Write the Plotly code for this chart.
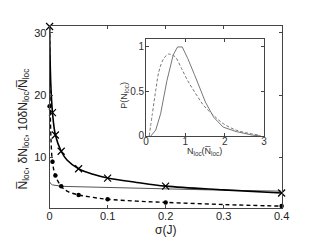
import plotly.graph_objects as go

# main panel data
sigma_pts = [0, 0.005, 0.01, 0.02, 0.05, 0.1, 0.2, 0.4]
mean_pts = [31.0, 17.2, 13.6, 11.0, 8.2, 6.7, 5.4, 4.3]
dn_pts = [18.2, 9.3, 7.1, 5.4, 4.0, 3.3, 2.8, 2.2]

sigma_fit = [0, 0.002, 0.005, 0.01, 0.02, 0.03, 0.05, 0.075, 0.1, 0.15, 0.2, 0.3, 0.4]
mean_fit = [31.0, 22.0, 17.2, 13.6, 11.0, 9.6, 8.2, 7.3, 6.7, 6.0, 5.4, 4.8, 4.3]
dn_fit = [31.0, 14.0, 9.3, 7.1, 5.4, 4.6, 4.0, 3.6, 3.3, 3.0, 2.8, 2.45, 2.2]
ratio_fit = [6.1, 5.8, 5.6, 5.5, 5.4, 5.35, 5.3, 5.28, 5.25, 5.1, 4.95, 4.75, 4.6]

# inset data
inset_x_solid = [0.12, 0.245, 0.37, 0.53, 0.69, 0.80, 0.92, 1.06, 1.23, 1.39, 1.51, 1.72, 1.96, 2.29, 2.70, 2.92]
inset_y_solid = [0.0, 0.066, 0.25, 0.62, 0.91, 1.0, 1.0, 0.87, 0.69, 0.52, 0.38, 0.21, 0.10, 0.05, 0.01, 0.0]
inset_x_dash = [0.08, 0.16, 0.245, 0.33, 0.45, 0.57, 0.65, 0.74, 0.90, 1.06, 1.27, 1.47, 1.72, 1.96, 2.29, 2.61, 2.90]
inset_y_dash = [0.0, 0.25, 0.51, 0.73, 0.87, 0.92, 0.91, 0.89, 0.76, 0.62, 0.47, 0.34, 0.23, 0.14, 0.066, 0.03, 0.01]

main_xticks = [0, 0.1, 0.2, 0.3, 0.4]
main_yticks = [10, 20, 30]
inset_xticks = [0, 1, 2, 3]
inset_yticks = [0, 0.5, 1]

W, H = 312, 246
FONT = "Liberation Sans, Arial, sans-serif"
fig = go.Figure()

fig.add_trace(go.Scatter(x=sigma_fit, y=ratio_fit, mode="lines",
                         line=dict(color="#555555", width=1), showlegend=False))
fig.add_trace(go.Scatter(x=sigma_fit, y=mean_fit, mode="lines",
                         line=dict(color="black", width=1.6, shape="spline"), showlegend=False))
fig.add_trace(go.Scatter(x=sigma_fit, y=dn_fit, mode="lines",
                         line=dict(color="black", width=1.4, dash="4px,3px", shape="spline"), showlegend=False))
fig.add_trace(go.Scatter(x=sigma_pts, y=mean_pts, mode="markers", cliponaxis=False,
                         marker=dict(symbol="x-thin-open", size=7, color="black",
                                     line=dict(color="black", width=1.2)), showlegend=False))
fig.add_trace(go.Scatter(x=sigma_pts, y=dn_pts, mode="markers", cliponaxis=False,
                         marker=dict(symbol="circle", size=4.5, color="black"), showlegend=False))

fig.add_trace(go.Scatter(x=inset_x_solid, y=inset_y_solid, mode="lines", xaxis="x2", yaxis="y2",
                         line=dict(color="#777777", width=1), showlegend=False))
fig.add_trace(go.Scatter(x=inset_x_dash, y=inset_y_dash, mode="lines", xaxis="x2", yaxis="y2",
                         line=dict(color="#777777", width=1, dash="3px,2px", shape="spline"), showlegend=False))

axis_common = dict(showgrid=False, zeroline=False, showline=True, linecolor="#444444", linewidth=1,
                   mirror="ticks", ticks="inside", ticklen=3, tickcolor="#444444",
                   tickfont=dict(family=FONT, size=11, color="#222222"))
inset_common = {**axis_common, "tickfont": dict(family=FONT, size=10, color="#333333")}

fig.update_layout(
    width=W, height=H,
    margin=dict(l=0, r=0, t=0, b=0),
    paper_bgcolor="white", plot_bgcolor="white",
    xaxis=dict(domain=[40/W, 280.5/W], range=[0, 0.4], tickvals=main_xticks,
               ticktext=["0", "0.1", "0.2", "0.3", "0.4"], anchor="y",
               ticklabelstandoff=-2, **axis_common),
    yaxis=dict(domain=[1-205/H, 1-18.3/H], range=[1.9, 31.1], tickvals=main_yticks, anchor="x",
               **axis_common),
    xaxis2=dict(domain=[140/W, 262.3/W], range=[0, 3], tickvals=inset_xticks, anchor="y2",
                ticklabelstandoff=-4, **inset_common),
    yaxis2=dict(domain=[1-131.2/H, 1-31.7/H], range=[0, 1.09], tickvals=inset_yticks,
                ticktext=["0", "0.5", "1"], anchor="x2", ticklabelstandoff=-1, **inset_common),
)

def ann(text, x, y, size, angle=0, color="#222222"):
    fig.add_annotation(text=text, xref="paper", yref="paper", x=x/W, y=1-y/H,
                       xanchor="center", yanchor="middle", showarrow=False, textangle=angle,
                       font=dict(family=FONT, size=size, color=color))

ann("σ(J)", 160, 228, 12)
ann("N\u0305<sub>loc</sub>, δN<sub>loc</sub>, 10δN<sub>loc</sub>/N\u0305<sub>loc</sub>", 13, 124, 12, angle=-90)
ann("N<sub>loc</sub>(N\u0305<sub>loc</sub>)", 201, 147, 9, color="#333333")
ann("P(N<sub>loc</sub>)", 118, 89, 9, angle=-90, color="#333333")

fig.write_html("out.html")
